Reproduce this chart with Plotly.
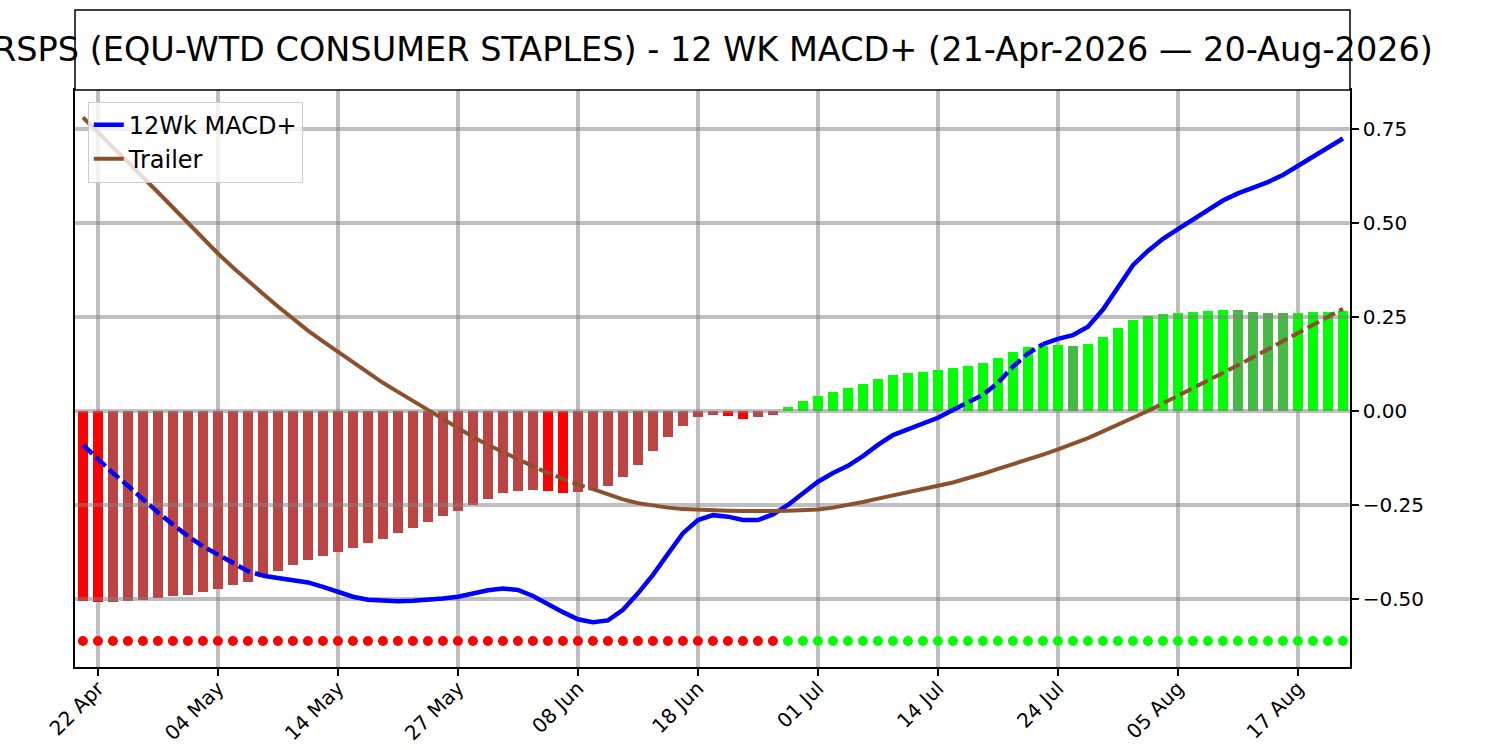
import plotly.graph_objects as go

# trading-day index 0..84 (21-Apr-2026 .. 20-Aug-2026)
tick_pos = [1, 9, 17, 25, 33, 41, 49, 57, 65, 73, 81]
tick_text = ["22 Apr", "04 May", "14 May", "27 May", "08 Jun", "18 Jun",
             "01 Jul", "14 Jul", "24 Jul", "05 Aug", "17 Aug"]

hist = [-0.505, -0.508, -0.507, -0.505, -0.503, -0.498, -0.492, -0.489, -0.481, -0.473,
        -0.463, -0.455, -0.441, -0.426, -0.410, -0.396, -0.386, -0.375, -0.364, -0.351,
        -0.340, -0.324, -0.310, -0.294, -0.279, -0.265, -0.249, -0.233, -0.217, -0.212,
        -0.211, -0.214, -0.217, -0.216, -0.210, -0.199, -0.175, -0.143, -0.106, -0.068,
        -0.039, -0.017, -0.010, -0.013, -0.020, -0.017, -0.010, 0.010, 0.027, 0.040,
        0.050, 0.061, 0.072, 0.085, 0.096, 0.101, 0.104, 0.109, 0.115, 0.120,
        0.128, 0.141, 0.157, 0.170, 0.173, 0.176, 0.173, 0.178, 0.197, 0.221,
        0.242, 0.252, 0.258, 0.261, 0.263, 0.266, 0.269, 0.268, 0.263, 0.261,
        0.260, 0.261, 0.263, 0.264, 0.266]

macd = [-0.090, -0.128, -0.165, -0.199, -0.236, -0.270, -0.302, -0.333, -0.360, -0.383,
        -0.405, -0.426, -0.438, -0.445, -0.450, -0.456, -0.468, -0.482, -0.494, -0.502,
        -0.505, -0.506, -0.505, -0.503, -0.499, -0.494, -0.485, -0.477, -0.472, -0.476,
        -0.492, -0.514, -0.535, -0.554, -0.562, -0.557, -0.529, -0.485, -0.436, -0.380,
        -0.325, -0.290, -0.277, -0.281, -0.290, -0.290, -0.275, -0.250, -0.218, -0.188,
        -0.165, -0.146, -0.120, -0.090, -0.064, -0.048, -0.034, -0.018, 0.003, 0.022,
        0.043, 0.075, 0.118, 0.153, 0.178, 0.192, 0.202, 0.224, 0.270, 0.331,
        0.388, 0.426, 0.458, 0.484, 0.510, 0.537, 0.560, 0.579, 0.594, 0.609,
        0.628, 0.652, 0.678, 0.700, 0.725]

trailer = [0.781, 0.742, 0.702, 0.662, 0.622, 0.582, 0.541, 0.500, 0.460, 0.419,
           0.382, 0.346, 0.312, 0.278, 0.245, 0.214, 0.185, 0.157, 0.128, 0.101,
           0.075, 0.051, 0.027, 0.003, -0.021, -0.046, -0.069, -0.090, -0.110, -0.129,
           -0.147, -0.165, -0.181, -0.195, -0.208, -0.222, -0.235, -0.245, -0.252, -0.257,
           -0.261, -0.263, -0.264, -0.265, -0.266, -0.267, -0.266, -0.265, -0.264, -0.262,
           -0.257, -0.250, -0.242, -0.233, -0.225, -0.217, -0.208, -0.199, -0.190, -0.179,
           -0.167, -0.154, -0.142, -0.129, -0.116, -0.102, -0.088, -0.072, -0.054, -0.036,
           -0.018, 0.000, 0.020, 0.040, 0.060, 0.080, 0.101, 0.122, 0.143, 0.165,
           0.187, 0.208, 0.230, 0.251, 0.272]

# index ranges drawn dashed
macd_dashed = [(0, 12), (58, 64)]
trailer_dashed = [(23, 34), (71, 84)]

signal_level = -0.612
y_ticks = [-0.5, -0.25, 0.0, 0.25, 0.5, 0.75]

idx = list(range(len(hist)))
font = "DejaVu Sans"
grid = "rgba(128,128,128,0.5)"

bar_colors = []
for i, v in enumerate(hist):
    prev = hist[i - 1] if i > 0 else 0
    if v < 0:
        bar_colors.append("#ff0000" if (i == 0 or v < prev) else "#bb4545")
    else:
        bar_colors.append("#00ff00" if v > prev else "#45bb45")

fig = go.Figure()

fig.add_trace(go.Bar(x=idx, y=hist, width=0.7, marker=dict(color=bar_colors, line=dict(width=0)),
                     showlegend=False, hoverinfo="skip"))

# horizontal grid sits above the bars
for t in y_ticks:
    fig.add_trace(go.Scatter(x=[-0.6, 84.6], y=[t, t], mode="lines",
                             line=dict(color=grid, width=4), showlegend=False, hoverinfo="skip"))


def segments(dashed, n):
    cuts = sorted({0, n - 1} | {a for a, b in dashed} | {b for a, b in dashed})
    out = []
    for a, b in zip(cuts[:-1], cuts[1:]):
        out.append((a, b, any(a >= d0 and b <= d1 for d0, d1 in dashed)))
    return out


for name, vals, color, width, dashed in [("12Wk MACD+", macd, "#0000ff", 4.5, macd_dashed),
                                         ("Trailer", trailer, "#8b512d", 4, trailer_dashed)]:
    shown = False
    for a, b, is_dash in segments(dashed, len(vals)):
        legend = (not is_dash) and not shown
        if legend:
            shown = True
        fig.add_trace(go.Scatter(x=idx[a:b + 1], y=vals[a:b + 1], mode="lines", name=name,
                                 legendgroup=name, showlegend=legend, hoverinfo="skip",
                                 line=dict(color=color, width=width,
                                           dash="13px,5px" if is_dash else "solid")))

dot_colors = ["#ff0000" if v < 0 else "#00ff00" for v in hist]
fig.add_trace(go.Scatter(x=idx, y=[signal_level] * len(idx), mode="markers",
                         marker=dict(color=dot_colors, size=10), showlegend=False, hoverinfo="skip"))

plot_h = 750 - 90 - 83
fig.add_shape(type="rect", xref="paper", yref="paper", x0=0, x1=1, y0=1, y1=1 + 80 / plot_h,
              line=dict(color="black", width=1.5), fillcolor="white", layer="above")
fig.add_annotation(xref="paper", yref="paper", x=0.5, y=1 + 40 / plot_h, yanchor="middle",
                   text="RSPS (EQU-WTD CONSUMER STAPLES) - 12 WK MACD+ (21-Apr-2026 \u2014 20-Aug-2026)",
                   showarrow=False, font=dict(family=font, size=33.5, color="black"))

fig.update_layout(
    width=1500, height=750,
    margin=dict(l=75, r=150, t=90, b=83, autoexpand=False),
    paper_bgcolor="white", plot_bgcolor="white",
    font=dict(family=font, color="black"),
    legend=dict(x=0.01, y=0.98, xanchor="left", yanchor="top",
                bgcolor="rgba(255,255,255,0.8)", bordercolor="#cccccc", borderwidth=1,
                font=dict(size=24), itemwidth=30, tracegroupgap=0),
    bargap=0,
)

fig.update_xaxes(range=[-0.53, 84.47], tickvals=tick_pos, ticktext=tick_text, tickangle=-45,
                 showgrid=True, gridcolor=grid, gridwidth=4, zeroline=False, automargin=False,
                 showline=True, mirror=True, linecolor="black", linewidth=1.5,
                 ticks="outside", ticklen=7, tickwidth=1.5, tickcolor="black",
                 ticklabelstandoff=-7, tickfont=dict(size=20))
fig.update_yaxes(range=[-0.681, 0.854], tickvals=y_ticks, tickformat=".2f", side="right",
                 showgrid=False, zeroline=False, automargin=False,
                 showline=True, mirror=True, linecolor="black", linewidth=1.5,
                 ticks="outside", ticklen=7, tickwidth=1.5, tickcolor="black",
                 tickfont=dict(size=20))

fig.write_html("out.html", config={"displayModeBar": False},
               post_script="document.body.style.margin='0';")
